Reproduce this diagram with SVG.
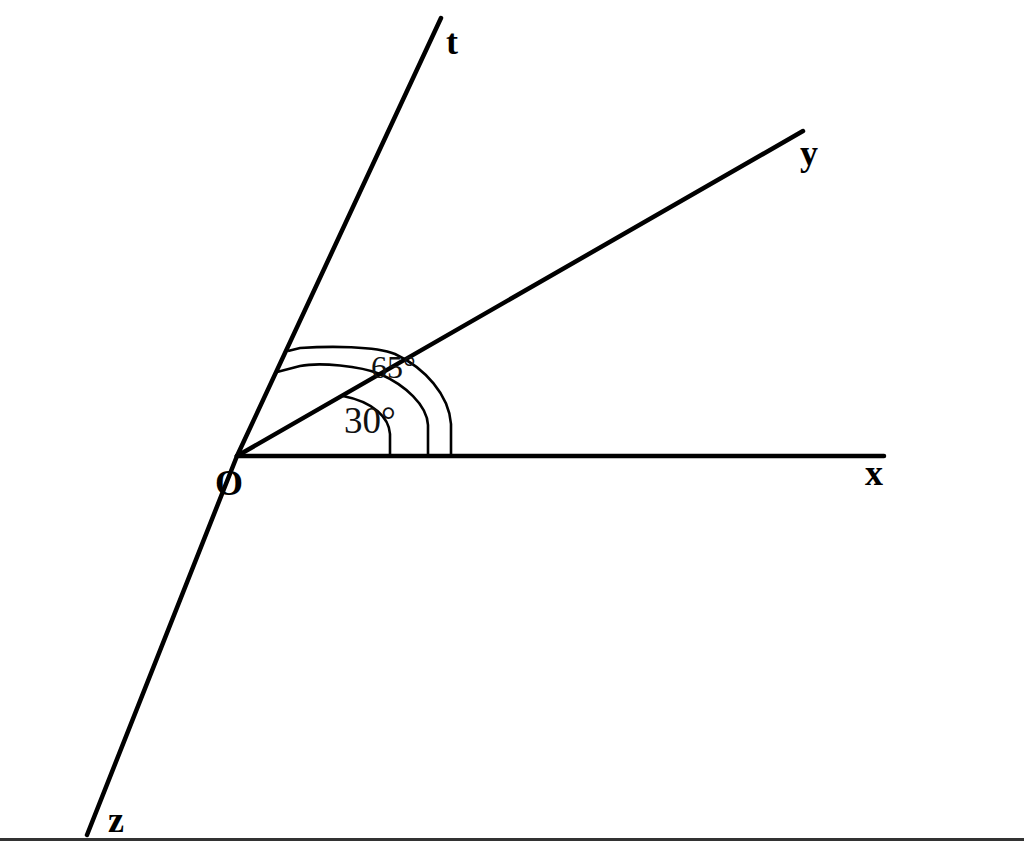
<svg xmlns="http://www.w3.org/2000/svg" width="1024" height="841" viewBox="0 0 1024 841">
<style>
.ray{stroke:#000;stroke-width:4.5;stroke-linecap:round;fill:none}
.arc{stroke:#000;stroke-width:2.6;fill:none}
.lbl{font-family:"Liberation Serif","Times New Roman",serif;font-weight:bold;font-size:36px;fill:#000}
.ang{font-family:"Liberation Serif","Times New Roman",serif;fill:#111}
</style>
<rect width="1024" height="841" fill="#fff"/>
<g id="connectors">
<line class="ray" x1="237" y1="456" x2="441" y2="18"/>
<line class="ray" x1="237" y1="456" x2="87" y2="835"/>
<line class="ray" x1="237" y1="456" x2="884" y2="456"/>
<line class="ray" x1="237" y1="456" x2="803" y2="131"/>
</g>
<g id="arcs">
<path class="arc" d="M390,456 L390,434 C389,418 374,402 343,396"/>
<path class="arc" d="M428,456 L428,425 C427,405 405,385 380,374 C360,366 320,362 300,366 L277,372"/>
<path class="arc" d="M451,456 L451,424 C449,395 425,368 395,354 C375,346 330,346 300,348 L288,351"/>
</g>
<g id="labels">
<text class="lbl" x="446" y="54">t</text>
<text class="lbl" x="800" y="165">y</text>
<text class="lbl" x="865" y="485">x</text>
<text class="lbl" x="215" y="495">O</text>
<text class="lbl" x="108" y="832">z</text>
<text class="ang" x="344" y="433" font-size="37">30°</text>
<text class="ang" x="371" y="378" font-size="32">65°</text>
</g>
<rect x="0" y="838" width="1024" height="3" fill="#333"/>
</svg>
